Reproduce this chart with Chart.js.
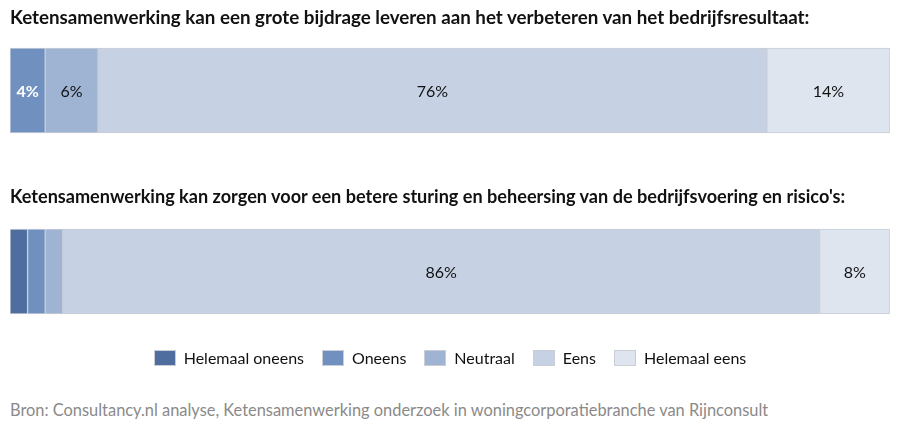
<!DOCTYPE html>
<html><head><meta charset="utf-8">
<script src="https://cdn.jsdelivr.net/npm/chart.js@4"></script>
<style>
html,body{margin:0;padding:0;background:#fff;width:900px;height:424px;overflow:hidden;position:relative;}
#wrap{position:absolute;left:0;top:0;width:900px;height:362px;}
.title{position:absolute;left:10px;font-family:Lato,"Open Sans",sans-serif;font-weight:bold;font-size:18.4px;color:#111;white-space:nowrap;}
#legend{position:absolute;left:0;width:900px;top:348px;display:flex;justify-content:center;font-family:Lato,"Open Sans",sans-serif;font-size:16px;color:#111;}
#legend .it{display:flex;align-items:center;margin:0 9px;}
#legend .bx{width:22px;height:16px;margin-right:8px;box-sizing:border-box;border:1px solid #c8cdd6;}
#src{position:absolute;left:10px;top:400px;font-family:Lato,"Open Sans",sans-serif;font-size:16.4px;color:#8a8a8a;white-space:nowrap;}
</style></head>
<body>
<div id="wrap"><canvas id="c"></canvas></div>
<div class="title" id="t1" style="top:5px;font-size:18.75px"></div>
<div class="title" id="t2" style="top:185px;font-size:18.1px"></div>
<div id="legend"></div>
<div id="src"></div>
<script>
const categories = ["Ketensamenwerking kan een grote bijdrage leveren aan het verbeteren van het bedrijfsresultaat:",
                    "Ketensamenwerking kan zorgen voor een betere sturing en beheersing van de bedrijfsvoering en risico's:"];
const seriesNames = ["Helemaal oneens","Oneens","Neutraal","Eens","Helemaal eens"];
const helemaalOneens = [0, 2];
const oneens = [4, 2];
const neutraal = [6, 2];
const eens = [76, 86];
const helemaalEens = [14, 8];
const seriesColors = ["#4f6d9e","#7090bf","#9fb3d2","#c6d1e3","#dfe5ef"];
const labelColors = ["#ffffff","#ffffff","#111111","#111111","#111111"];
const source = "Bron: Consultancy.nl analyse, Ketensamenwerking onderzoek in woningcorporatiebranche van Rijnconsult";

document.getElementById('t1').textContent = categories[0];
document.getElementById('t2').textContent = categories[1];
document.getElementById('src').textContent = source;
const lg = document.getElementById('legend');
seriesNames.forEach((n,i)=>{
  const it=document.createElement('div');it.className='it';
  const b=document.createElement('div');b.className='bx';b.style.background=seriesColors[i];
  const s=document.createElement('span');s.textContent=n;
  it.appendChild(b);it.appendChild(s);lg.appendChild(it);
});

const allSeries=[helemaalOneens,oneens,neutraal,eens,helemaalEens];
const labelPlugin={id:'lbl',afterDatasetsDraw(chart){
  const ctx=chart.ctx;ctx.save();
  ctx.textAlign='center';ctx.textBaseline='middle';
  chart.data.datasets.forEach((ds,i)=>{
    const meta=chart.getDatasetMeta(i);
    meta.data.forEach((el,j)=>{
      const v=ds.data[j];
      if(v<3) return;
      ctx.fillStyle=labelColors[i];
      ctx.font=(i<2?'bold ':'')+'16px Lato, "Open Sans", sans-serif';
      ctx.fillText(v+'%',(el.x+el.base)/2,el.y+1);
    });
  });
  ctx.restore();
}};

new Chart(document.getElementById('c'),{
  type:'bar',
  data:{labels:categories,datasets:allSeries.map((d,i)=>({label:seriesNames[i],data:d,backgroundColor:seriesColors[i],borderColor:'#c9ced8',borderWidth:1,borderSkipped:false,barThickness:85}))},
  options:{indexAxis:'y',responsive:true,maintainAspectRatio:false,animation:false,
    layout:{padding:{left:10,right:10,top:0,bottom:0}},
    plugins:{legend:{display:false},tooltip:{enabled:false}},
    scales:{x:{stacked:true,min:0,max:100,display:false},y:{stacked:true,display:false}}},
  plugins:[labelPlugin]
});
</script>
</body></html>
